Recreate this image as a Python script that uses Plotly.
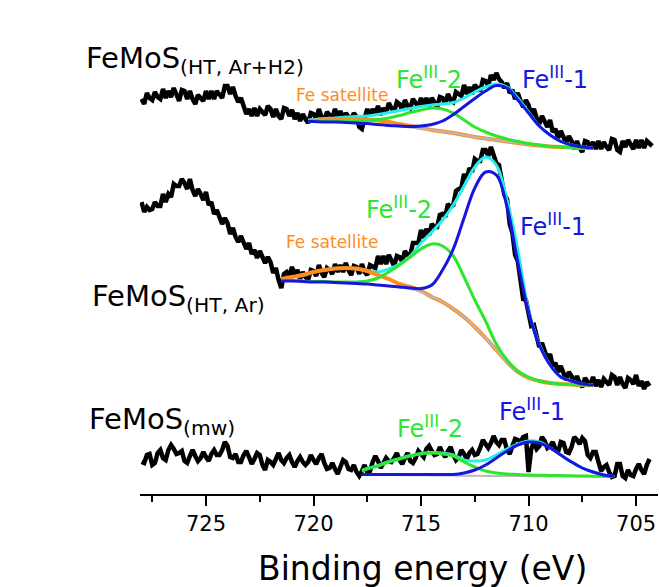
import plotly.graph_objects as go

# ---------------- data ----------------
# binding-energy grid of the measured spectra (eV), 0.125 eV steps
energy = [
    728.000, 727.875, 727.750, 727.625, 727.500, 727.375, 727.250, 727.125,
    727.000, 726.875, 726.750, 726.625, 726.500, 726.375, 726.250, 726.125,
    726.000, 725.875, 725.750, 725.625, 725.500, 725.375, 725.250, 725.125,
    725.000, 724.875, 724.750, 724.625, 724.500, 724.375, 724.250, 724.125,
    724.000, 723.875, 723.750, 723.625, 723.500, 723.375, 723.250, 723.125,
    723.000, 722.875, 722.750, 722.625, 722.500, 722.375, 722.250, 722.125,
    722.000, 721.875, 721.750, 721.625, 721.500, 721.375, 721.250, 721.125,
    721.000, 720.875, 720.750, 720.625, 720.500, 720.375, 720.250, 720.125,
    720.000, 719.875, 719.750, 719.625, 719.500, 719.375, 719.250, 719.125,
    719.000, 718.875, 718.750, 718.625, 718.500, 718.375, 718.250, 718.125,
    718.000, 717.875, 717.750, 717.625, 717.500, 717.375, 717.250, 717.125,
    717.000, 716.875, 716.750, 716.625, 716.500, 716.375, 716.250, 716.125,
    716.000, 715.875, 715.750, 715.625, 715.500, 715.375, 715.250, 715.125,
    715.000, 714.875, 714.750, 714.625, 714.500, 714.375, 714.250, 714.125,
    714.000, 713.875, 713.750, 713.625, 713.500, 713.375, 713.250, 713.125,
    713.000, 712.875, 712.750, 712.625, 712.500, 712.375, 712.250, 712.125,
    712.000, 711.875, 711.750, 711.625, 711.500, 711.375, 711.250, 711.125,
    711.000, 710.875, 710.750, 710.625, 710.500, 710.375, 710.250, 710.125,
    710.000, 709.875, 709.750, 709.625, 709.500, 709.375, 709.250, 709.125,
    709.000, 708.875, 708.750, 708.625, 708.500, 708.375, 708.250, 708.125,
    708.000, 707.875, 707.750, 707.625, 707.500, 707.375, 707.250, 707.125,
    707.000, 706.875, 706.750, 706.625, 706.500, 706.375, 706.250, 706.125,
    706.000, 705.875, 705.750, 705.625, 705.500, 705.375, 705.250, 705.125,
    705.000, 704.875, 704.750, 704.625, 704.500, 704.375, 704.250, 704.125,
]

# stacked intensities (a.u., offset per sample)
counts_ar_h2 = [
    395, 390, 401, 396, 394, 402, 397, 395, 405, 396, 403, 397, 406, 399, 393, 404, 403, 395, 403, 395,
    390, 399, 396, 393, 403, 395, 403, 395, 403, 399, 396, 408, 408, 400, 407, 398, 392, 396, 387, 380,
    385, 378, 386, 378, 385, 381, 379, 388, 385, 377, 385, 378, 375, 386, 385, 378, 384, 375, 381, 373,
    380, 375, 371, 381, 380, 375, 385, 377, 373, 382, 379, 376, 385, 376, 383, 374, 381, 377, 374, 381,
    377, 367, 365, 376, 385, 378, 385, 380, 388, 379, 386, 381, 391, 386, 382, 392, 390, 384, 394, 388,
    386, 395, 391, 387, 396, 388, 396, 388, 396, 391, 387, 397, 396, 390, 400, 394, 392, 402, 400, 398,
    409, 400, 407, 400, 409, 405, 403, 414, 413, 408, 419, 414, 421, 415, 412, 406, 411, 401, 404, 395,
    401, 393, 387, 394, 389, 379, 385, 376, 370, 378, 373, 367, 374, 362, 365, 356, 363, 356, 351, 358,
    353, 345, 353, 346, 342, 353, 352, 346, 352, 345, 353, 345, 352, 347, 344, 355, 354, 344, 342, 353,
    347, 354, 349, 345, 354, 346, 354, 346, 353, 350, 348, None,
]
counts_ar = [
    292, 282, 287, 284, 285, 292, 288, 288, 300, 292, 300, 297, 310, 308, 308, 315, 311, 305, 315, 304,
    298, 305, 300, 294, 302, 289, 292, 280, 284, 276, 270, 276, 271, 260, 266, 257, 252, 258, 252, 245,
    251, 240, 244, 236, 243, 236, 231, 237, 232, 221, 226, 214, 206, 220, 222, 218, 227, 218, 224, 215,
    222, 217, 214, 224, 223, 218, 229, 221, 217, 226, 224, 220, 230, 222, 229, 222, 231, 224, 219, 228,
    227, 220, 230, 222, 219, 229, 228, 226, 238, 230, 238, 230, 239, 232, 228, 238, 237, 232, 243, 239,
    239, 251, 251, 251, 264, 256, 265, 259, 270, 267, 267, 279, 280, 277, 290, 287, 289, 303, 305, 306,
    320, 315, 326, 322, 335, 333, 333, 344, 344, 338, 347, 337, 331, 329, 315, 299, 295, 270, 261, 239,
    233, 213, 195, 194, 182, 168, 169, 156, 147, 151, 143, 135, 140, 128, 131, 122, 128, 120, 114, 122,
    118, 110, 118, 111, 107, 116, 112, 108, 117, 108, 114, 107, 115, 111, 109, 119, 117, 109, 117, 110,
    106, 116, 114, 110, 119, 108, 113, 105, 112, 108, None, None,
]
counts_mw = [
    32, 31, 39, 40, 29, 31, 41, 44, 36, 34, 44, 49, 45, 40, 41, 43, 33, 31, 38, 44,
    38, 33, 36, 42, 37, 33, 40, 44, 39, 39, 44, 52, 48, 37, 36, 40, 32, 32, 39, 43,
    37, 30, 35, 41, 39, 29, 24, 34, 32, 29, 35, 41, 34, 31, 36, 39, 32, 27, 33, 37,
    32, 29, 32, 39, 34, 30, 36, 40, 31, 25, 26, 31, 25, 20, 27, 34, 32, 25, 24, 29,
    22, 18, 23, 29, 22, 23, 32, 38, 33, 26, 31, 36, 33, 32, 36, 41, 34, 30, 36, 41,
    33, 31, 36, 43, 40, 37, 45, 48, 43, 39, 40, 47, 41, 37, 43, 47, 39, 34, 37, 44,
    40, 35, 41, 44, 39, 40, 46, 54, 50, 46, 51, 58, 52, 49, 54, 54, 44, 40, 48, 55,
    54, 52, 57, 58, 22, 45, 52, 45, 48, 57, 53, 46, 48, 52, 45, 42, 52, 51, 42, 41,
    47, 57, 54, 50, 56, 53, 39, 36, 42, 42, 32, 23, 27, 29, 22, 17, 18, 30, 30, 18,
    16, 24, 19, 18, 25, 30, 24, 20, 29, 35, None, None,
]

# fitted components, HT Ar+H2 sample
fit_e_ar_h2 = [720.25, 720.0, 719.5, 719.0, 718.5, 718.0, 717.5, 717.0, 716.5, 716.0,
               715.5, 715.0, 714.5, 714.0, 713.5, 713.0, 712.5, 712.0, 711.5, 711.0,
               710.5, 710.0, 709.5, 709.0, 708.5, 708.0, 707.5, 707.0]
bg_ar_h2 = [372.5, 372.5, 372, 372, 371.5, 371, 370.5, 369.5, 368.5, 367.5, 366.5, 365.5, 364, 362.5,
            361, 359, 357, 355.5, 354, 352.5, 351, 349.5, 348.5, 347.5, 347, 346.5, 346, 346]
sat_ar_h2 = [373, 373.5, 374, 374.5, 375, 375, 374.5, 373.5, 372, 370, 368, 366, 364, 362.5,
             361, 359, 357, 355.5, 354, 352.5, 351, 349.5, 348.5, 347.5, 347, 346.5, 346, 346]
fe2_ar_h2 = [372.5, 372.5, 372.5, 372.5, 372.5, 373, 373.5, 374.5, 376, 378.5, 381.5, 384, 386, 385,
             381, 374, 367, 362, 358, 355, 352.5, 350.5, 349, 347.5, 347, 346.5, 346, 346]
fe1_ar_h2 = [372.5, 372.5, 372, 372, 371.5, 371, 370.5, 369.5, 368.5, 368, 367.5, 368, 369.5, 373,
             379.5, 387.5, 395.5, 403, 408.5, 406, 394, 381, 368, 359, 352.5, 349, 347, 346]
env_ar_h2 = [374, 374.5, 375.5, 376, 377, 377.5, 378, 379.5, 381.5, 383.5, 385.5, 387.5, 389, 390,
             391.5, 396, 402, 407, 410, 407, 396, 382, 368, 359, 352.5, 349, 347, 346]

# fitted components, HT Ar sample
fit_e_ar = [721.5, 721.0, 720.5, 720.0, 719.5, 719.0, 718.5, 718.0, 717.5, 717.0,
            716.5, 716.0, 715.5, 715.0, 714.5, 714.0, 713.5, 713.0, 712.5, 712.0,
            711.5, 711.0, 710.5, 710.0, 709.5, 709.0, 708.5, 708.0, 707.5, 707.0]
bg_ar = [214, 213.5, 213, 212.5, 212, 211.5, 211, 210.5, 210, 209, 208, 207, 205, 202, 197,
         192, 185, 177, 167, 156, 144, 132, 122, 116, 113, 111, 110, 109.5, 109, 109]
sat_ar = [215, 217, 219, 222, 224, 225.5, 226, 225.5, 223, 219, 215, 210, 207, 203, 197,
          192, 185, 177, 167, 156, 144, 132, 122, 116, 113, 111, 110, 109.5, 109, 109]
fe2_ar = [213.5, 213.5, 213, 212.5, 212.5, 212, 212, 212, 213, 216, 222, 229, 237, 245, 250,
          248, 238, 217, 194, 173, 150, 134, 123, 117, 113, 111, 110, 109.5, 109, 109]
fe1_ar = [213, 213, 212.5, 212, 212, 211.5, 211, 210.5, 210, 209, 208, 207, 206, 205.5, 209,
          224, 245, 276, 306, 322, 319, 287, 232, 182, 149, 129, 117, 113, 110, 109]
env_ar = [215, 217, 219, 222, 224, 225.5, 226, 225, 223.5, 222, 225, 230, 238, 251, 262,
          274, 289, 308, 327, 337, 329, 294, 244, 184, 150, 129, 117, 113, 110, 109]

# fitted components, microwave sample
fit_e_mw = [717.75, 717.5, 717.0, 716.5, 716.0, 715.5, 715.0, 714.5, 714.0, 713.5,
            713.0, 712.5, 712.0, 711.5, 711.0, 710.5, 710.0, 709.5, 709.0, 708.5,
            708.0, 707.5, 707.0, 706.5, 706.0]
bg_mw = [19, 19, 19, 19, 18.9, 18.8, 18.7, 18.6, 18.5, 18.4, 18.3, 18.2, 18.1,
         18, 18, 17.9, 17.9, 17.8, 17.8, 17.7, 17.7, 17.6, 17.6, 17.5, 17.5]
fe2_mw = [23, 25, 28, 32, 35, 38, 40, 41, 40, 38, 32, 27, 23,
          21, 20, 19.5, 19, 18.8, 18.6, 18.4, 18.2, 18, 17.8, 17.6, 17.5]
fe1_mw = [19.5, 19.5, 19.5, 19.5, 19.5, 19.5, 19.5, 19.5, 19.5, 19.5, 21, 24, 29,
          36, 43, 49, 52, 51, 46, 39, 32, 26, 22, 19, 17.5]
env_mw = [23.5, 25.5, 28.5, 32.5, 35.5, 38.5, 40.5, 41.5, 41, 39, 34, 33, 34,
          39, 45, 50, 53, 52, 46, 39, 32, 26, 22, 19, 17.5]

tick_values = [725, 720, 715, 710, 705]
minor_tick_values = [727.5, 722.5, 717.5, 712.5, 707.5]

# ---------------- styling ----------------
FONT = "DejaVu Sans"
C_BG = "#B9B9B9"
C_SAT = "#FF8C1E"
C_FE2 = "#2EE62E"
C_FE1 = "#1616E0"
C_ENV = "#22EEEE"

W, H = 660, 587
L, R, T, B = 140, 2, 20, 93
PLOT_W = W - L - R
PLOT_H = H - T - B


def xp(px):
    return (px - L) / PLOT_W


def yp(py):
    return (H - B - py) / PLOT_H


fig = go.Figure()

for counts in (counts_ar_h2, counts_ar, counts_mw):
    fig.add_trace(go.Scatter(x=energy, y=counts, mode="lines", connectgaps=False,
                             line=dict(color="black", width=4.5)))


def add_fit(e, bg, fe2, fe1, env, sat=None):
    fig.add_trace(go.Scatter(x=e, y=env, mode="lines",
                             line=dict(color=C_ENV, width=3, shape="spline")))
    if sat is not None:
        fig.add_trace(go.Scatter(x=e, y=sat, mode="lines",
                                 line=dict(color=C_SAT, width=4, shape="spline")))
    fig.add_trace(go.Scatter(x=e, y=bg, mode="lines",
                             line=dict(color=C_BG, width=2, shape="spline")))
    fig.add_trace(go.Scatter(x=e, y=fe2, mode="lines",
                             line=dict(color=C_FE2, width=3, shape="spline")))
    fig.add_trace(go.Scatter(x=e, y=fe1, mode="lines",
                             line=dict(color=C_FE1, width=3, shape="spline")))


add_fit(fit_e_ar_h2, bg_ar_h2, fe2_ar_h2, fe1_ar_h2, env_ar_h2, sat_ar_h2)
add_fit(fit_e_ar, bg_ar, fe2_ar, fe1_ar, env_ar, sat_ar)
add_fit(fit_e_mw, bg_mw, fe2_mw, fe1_mw, env_mw)

annotations = []


def label(text, px, py, size, color="black", xanchor="center"):
    annotations.append(dict(text=text, x=xp(px), y=yp(py), xref="paper", yref="paper",
                            showarrow=False, xanchor=xanchor, yanchor="middle",
                            font=dict(family=FONT, size=size, color=color)))


label("FeMoS<sub>(HT, Ar+H2)</sub>", 84, 60, 29, xanchor="left")
label("FeMoS<sub>(HT, Ar)</sub>", 90, 298, 29, xanchor="left")
label("FeMoS<sub>(mw)</sub>", 87, 421, 29, xanchor="left")

label("Fe satellite", 342, 95, 17, C_SAT)
label("Fe<sup>III</sup>-2", 429, 78, 24, C_FE2)
label("Fe<sup>III</sup>-1", 555, 78, 24, C_FE1)

label("Fe satellite", 332, 242, 17, C_SAT)
label("Fe<sup>III</sup>-2", 399, 208, 24, C_FE2)
label("Fe<sup>III</sup>-1", 553, 225, 24, C_FE1)

label("Fe<sup>III</sup>-2", 430, 427, 24, C_FE2)
label("Fe<sup>III</sup>-1", 532, 410, 24, C_FE1)

label("Binding energy (eV)", 422, 568, 33)

fig.update_layout(
    width=W, height=H,
    margin=dict(l=L, r=R, t=T, b=B, pad=0),
    paper_bgcolor="white", plot_bgcolor="white",
    showlegend=False,
    annotations=annotations,
    xaxis=dict(
        range=[728.07, 703.98], showgrid=False, zeroline=False,
        showline=True, linecolor="black", linewidth=2,
        ticks="outside", ticklen=10, tickwidth=2, tickcolor="black",
        tickvals=tick_values, ticktext=[str(v) for v in tick_values],
        tickfont=dict(family=FONT, size=21, color="black"),
        minor=dict(tickvals=minor_tick_values, ticks="outside", ticklen=6,
                   tickwidth=2, tickcolor="black", showgrid=False),
    ),
    yaxis=dict(range=[0, PLOT_H], visible=False, showgrid=False, zeroline=False),
)

fig.write_html("out.html")
